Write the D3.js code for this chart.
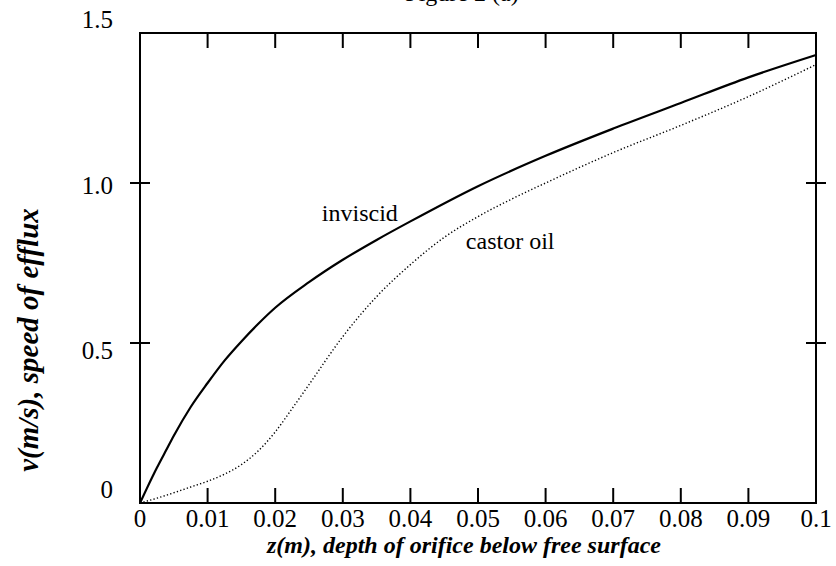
<!DOCTYPE html>
<html>
<head>
<meta charset="utf-8" />
<title>speed of efflux</title>
<script src="https://cdn.jsdelivr.net/npm/d3@7/dist/d3.min.js"></script>
<style>
  html,body{margin:0;padding:0;background:#fff;}
  svg{display:block;}
  text{font-family:'Liberation Serif','Times New Roman',serif;}
</style>
</head>
<body>
<svg id="chart" width="836" height="566"></svg>
<script>
// data
const zInviscid = [0, 0.001, 0.0025, 0.004, 0.005, 0.0075, 0.01, 0.0125, 0.015, 0.0175, 0.02, 0.025, 0.03, 0.035, 0.04, 0.05, 0.06, 0.07, 0.08, 0.09, 0.1];
const vInviscid = [0, 0.045, 0.11, 0.17, 0.21, 0.30, 0.375, 0.445, 0.505, 0.56, 0.61, 0.69, 0.76, 0.822, 0.88, 0.99, 1.085, 1.17, 1.25, 1.33, 1.40];
const zCastor = [0, 0.0025, 0.005, 0.0075, 0.01, 0.0125, 0.015, 0.0175, 0.02, 0.0225, 0.025, 0.03, 0.035, 0.04, 0.045, 0.05, 0.055, 0.06, 0.07, 0.08, 0.09, 0.1];
const vCastor = [0, 0.015, 0.032, 0.05, 0.068, 0.09, 0.12, 0.163, 0.222, 0.295, 0.37, 0.52, 0.645, 0.745, 0.83, 0.895, 0.95, 1.0, 1.095, 1.18, 1.27, 1.37];
const xTicks = [0, 0.01, 0.02, 0.03, 0.04, 0.05, 0.06, 0.07, 0.08, 0.09, 0.1];
const xTickLabels = ['0', '0.01', '0.02', '0.03', '0.04', '0.05', '0.06', '0.07', '0.08', '0.09', '0.1'];
const yTicks = [0, 0.5, 1.0, 1.5];
const yTickLabels = ['0', '0.5', '1.0', '1.5'];

const svg = d3.select('#chart');
const L = 140, R = 816, T = 33, B = 503;

const x = d3.scaleLinear().domain([0, 0.1]).range([L, R]);
const y = d3.scaleLinear().domain([0, 1.5]).range([B, B - 480]);

// title (mostly clipped at the top edge)
svg.append('text').attr('x', 462).attr('y', 1).attr('text-anchor', 'middle')
  .attr('font-size', 24).text('Figure 2 (a)');

const line = d3.line().x(d => x(d[0])).y(d => y(d[1])).curve(d3.curveMonotoneX);

svg.append('path').datum(d3.zip(zCastor, vCastor))
  .attr('d', line).attr('fill', 'none').attr('stroke', '#000')
  .attr('stroke-width', 1.4).attr('stroke-dasharray', '1.3,2.2');

svg.append('path').datum(d3.zip(zInviscid, vInviscid))
  .attr('d', line).attr('fill', 'none').attr('stroke', '#000')
  .attr('stroke-width', 2.2);

// frame
svg.append('rect').attr('x', L).attr('y', T).attr('width', R - L).attr('height', B - T)
  .attr('fill', 'none').attr('stroke', '#000').attr('stroke-width', 2);

// x ticks (inward, top and bottom)
const xt = xTicks.slice(1, -1);
svg.selectAll('.xtb').data(xt).enter().append('line')
  .attr('x1', d => x(d)).attr('x2', d => x(d)).attr('y1', B).attr('y2', B - 15)
  .attr('stroke', '#000').attr('stroke-width', 2);
svg.selectAll('.xtt').data(xt).enter().append('line')
  .attr('x1', d => x(d)).attr('x2', d => x(d)).attr('y1', T).attr('y2', T + 15)
  .attr('stroke', '#000').attr('stroke-width', 2);

// y ticks (crossing left and right sides)
const yt = [0.5, 1.0];
[L, R].forEach(sx => {
  svg.selectAll(null).data(yt).enter().append('line')
    .attr('x1', sx - 10).attr('x2', sx + 10).attr('y1', d => y(d)).attr('y2', d => y(d))
    .attr('stroke', '#000').attr('stroke-width', 2);
});

svg.selectAll('.xl').data(xTicks).enter().append('text')
  .attr('x', d => x(d)).attr('y', 527).attr('text-anchor', 'middle')
  .attr('font-size', 25).text((d, i) => xTickLabels[i]);

const yNudge = [-13, 8, 3, -3];
svg.selectAll('.yl').data(yTicks).enter().append('text')
  .attr('x', 113).attr('y', (d, i) => y(d) + yNudge[i] + 8).attr('text-anchor', 'end')
  .attr('font-size', 25).text((d, i) => yTickLabels[i]);

// curve labels
svg.append('text').attr('x', x(0.0269)).attr('y', y(0.881)).attr('font-size', 24).text('inviscid');
svg.append('text').attr('x', x(0.0482)).attr('y', y(0.794)).attr('font-size', 24).text('castor oil');

// axis titles
svg.append('text').attr('x', 464).attr('y', 553).attr('text-anchor', 'middle')
  .attr('font-size', 24).attr('font-weight', 'bold').attr('font-style', 'italic')
  .text('z(m), depth of orifice below free surface');
svg.append('text').attr('transform', 'translate(38,340) rotate(-90)').attr('text-anchor', 'middle')
  .attr('font-size', 29).attr('font-weight', 'bold').attr('font-style', 'italic')
  .text('v(m/s), speed of efflux');
</script>
</body>
</html>
